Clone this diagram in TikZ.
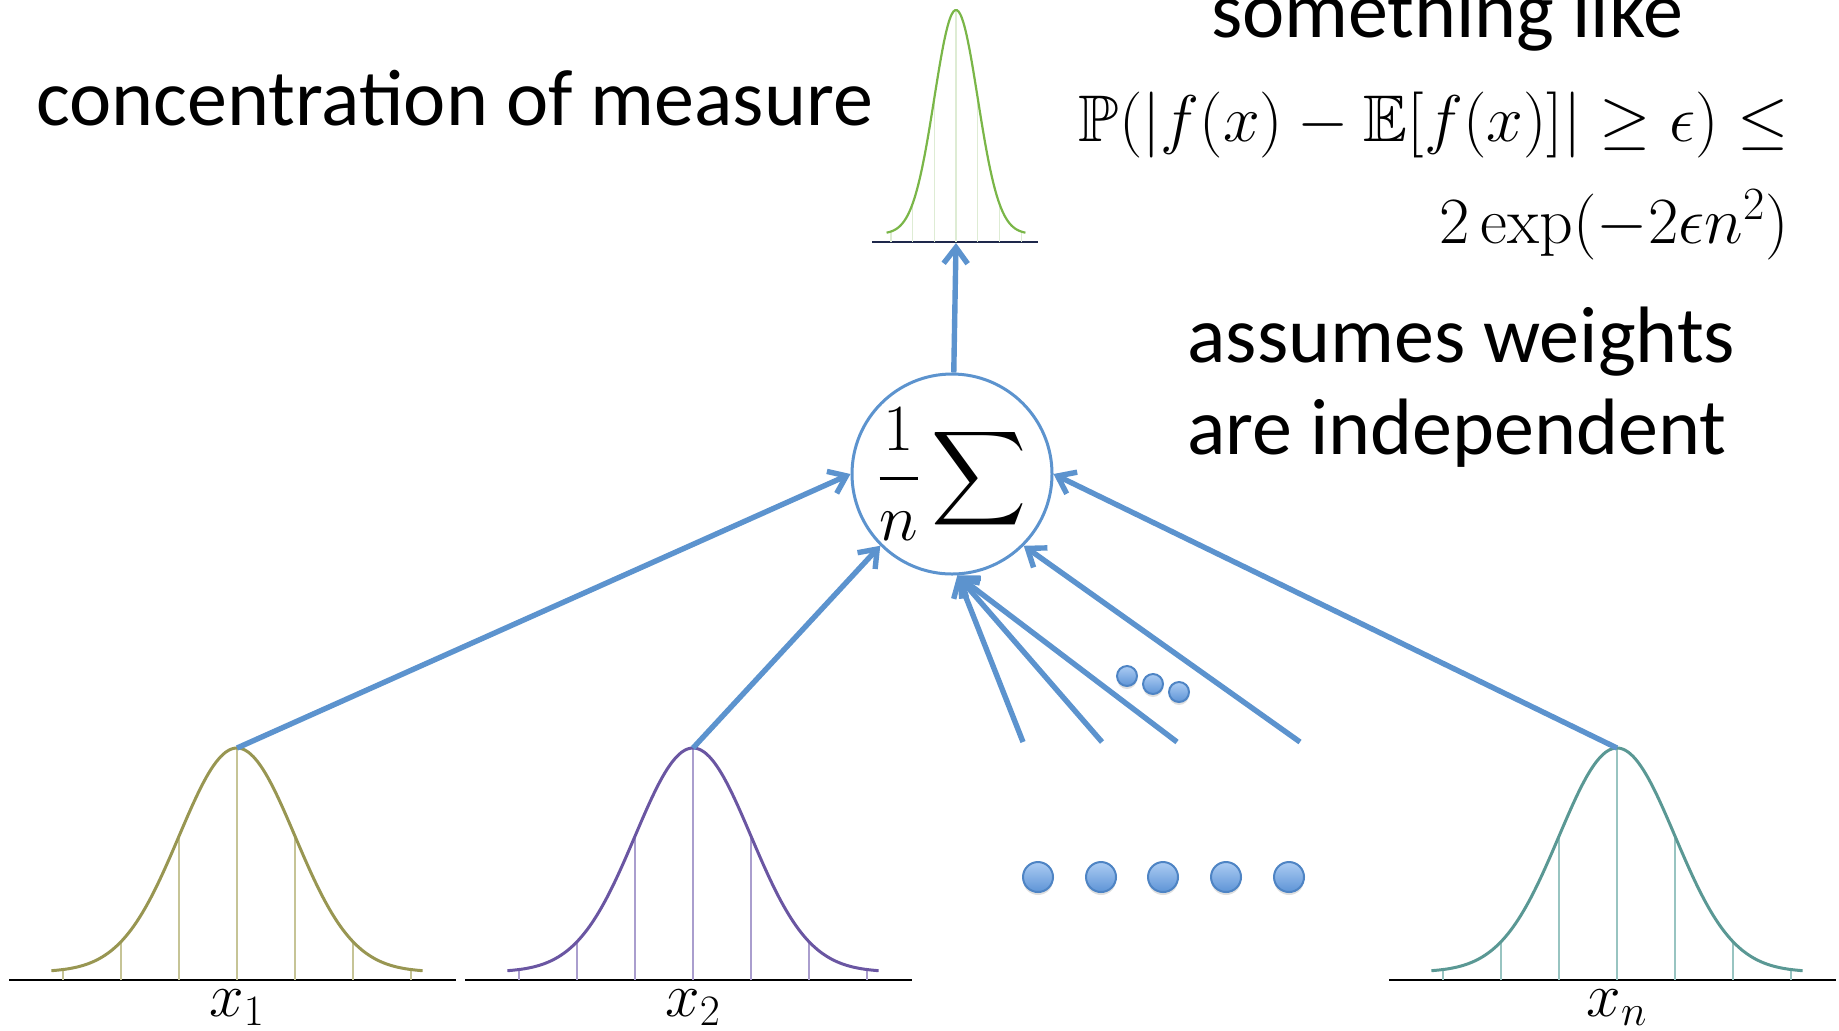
\RequirePackage{fix-cm}
\documentclass[tikz,border=0pt]{standalone}
\usepackage{amssymb}
\usepackage[no-math]{fontspec}
\newfontfamily\calibri{Carlito}
\usetikzlibrary{arrows.meta,shadows}
\definecolor{arrowblue}{RGB}{92,147,206}
\definecolor{olivebell}{RGB}{152,150,82}
\definecolor{olivetick}{RGB}{198,196,150}
\definecolor{purplebell}{RGB}{106,86,162}
\definecolor{purpletick}{RGB}{170,158,206}
\definecolor{tealbell}{RGB}{90,152,148}
\definecolor{tealtick}{RGB}{152,196,193}
\definecolor{greenbell}{RGB}{122,182,72}
\definecolor{greentick}{RGB}{222,236,212}
\definecolor{navyaxis}{RGB}{30,40,75}
\definecolor{dottop}{RGB}{172,204,243}
\definecolor{dotbottom}{RGB}{94,148,214}
\definecolor{dotrim}{RGB}{78,132,196}
\tikzset{
  feed/.style={draw=arrowblue, line width=2.7pt, -{Straight Barb[length=8pt,width=12pt]}},
  mathtxt/.style={font=\fontsize{31}{37}\selectfont, inner sep=0pt},
  boundtxt/.style={font=\fontsize{33}{39}\selectfont, inner sep=0pt},
  slidetxt/.style={font=\calibri\fontsize{40}{46}\selectfont, inner sep=0pt},
  sumnode/.style={boundtxt, circle, draw=arrowblue, line width=1.5pt, fill=white, minimum size=100pt},
  bigdot/.style={circle, draw=dotrim, line width=1pt, top color=dottop, bottom color=dotbottom,
    minimum size=15pt, inner sep=0pt, drop shadow={opacity=0.25,shadow xshift=0pt,shadow yshift=-1.5pt}},
  smalldot/.style={bigdot, minimum size=10pt}
}

\begin{document}
\begin{tikzpicture}[x=0.5pt,y=-0.5pt]
    \useasboundingbox (0,0) rectangle (1839,1030);

    % averaging unit
    \node[sumnode] (sum) at (952,474) {$\displaystyle\frac{1}{n}\sum$};

    % narrow bell on top
    \draw[navyaxis, line width=1pt] (872,242) -- (1038,242);
    \foreach \k in {-3,...,3}
        \draw[greentick, line width=0.6pt] ({956+21.7*\k},242) -- ({956+21.7*\k},{234-224*exp(-0.5*(\k)*(\k))});
    \draw[greenbell, line width=1.1pt, domain=-3.2:3.2, samples=80, smooth]
        plot ({956+21.7*\x},{234-224*exp(-0.5*(\x)*(\x))});
    \coordinate (outbase) at (956,243);

    % input bells
    \foreach \cx/\bc/\tk/\lbl/\nm in {237/olivebell/olivetick/x_1/1, 693/purplebell/purpletick/x_2/2, 1617/tealbell/tealtick/x_n/n}{
        \draw[black, line width=1pt] ({\cx-228},980) -- ({\cx+219},980);
        \foreach \k in {-3,...,3}
            \draw[\tk, line width=0.7pt] ({\cx+58*\k},980) -- ({\cx+58*\k},{972-224*exp(-0.5*(\k)*(\k))});
        \draw[\bc, line width=1.5pt, domain=-3.2:3.2, samples=80, smooth]
            plot ({\cx+58*\x},{972-224*exp(-0.5*(\x)*(\x))});
        \coordinate (pk\nm) at (\cx,748);
        \node[mathtxt, anchor=base] (lbl\nm) at (\cx,1016) {$\lbl$};
    }

    % connections
    \draw[feed] (pk1) -- (sum.180);
    \draw[feed] (pk2) -- (sum.225);
    \draw[feed] (pkn) -- (sum.0);
    \draw[feed] (sum) -- (outbase);
    \foreach \mx/\nm in {1023/a, 1102/b, 1177/c}{
        \coordinate (m\nm) at (\mx,742);
        \draw[feed] (m\nm) -- (sum.273);
    }
    \coordinate (md) at (1300,742);
    \draw[feed] (md) -- (sum.315);

    % dots
    \foreach \dx [count=\i] in {1038,1101,1163,1226,1289}
        \node[bigdot] (dot\i) at (\dx,877) {};
    \foreach \dx/\dy [count=\i] in {1127/676, 1153/684, 1179/692}
        \node[smalldot] (sdot\i) at (\dx,\dy) {};

    % texts
    \node[slidetxt, anchor=base west] (title) at (36,125) {concentration of measure};
    \node[slidetxt, anchor=base] (like) at (1447,37) {something like};
    \node[boundtxt, anchor=base east] (bound1) at (1789,141) {$\mathbb{P}(|f(x)-\mathbb{E}[f(x)]|\geq\epsilon)\leq$};
    \node[boundtxt, anchor=base east] (bound2) at (1789,243) {$2\exp(-2\epsilon n^2)$};
    \node[slidetxt, anchor=base west] (indep1) at (1187,362) {assumes weights};
    \node[slidetxt, anchor=base west] (indep2) at (1187,454) {are independent};
\end{tikzpicture}
\end{document}
